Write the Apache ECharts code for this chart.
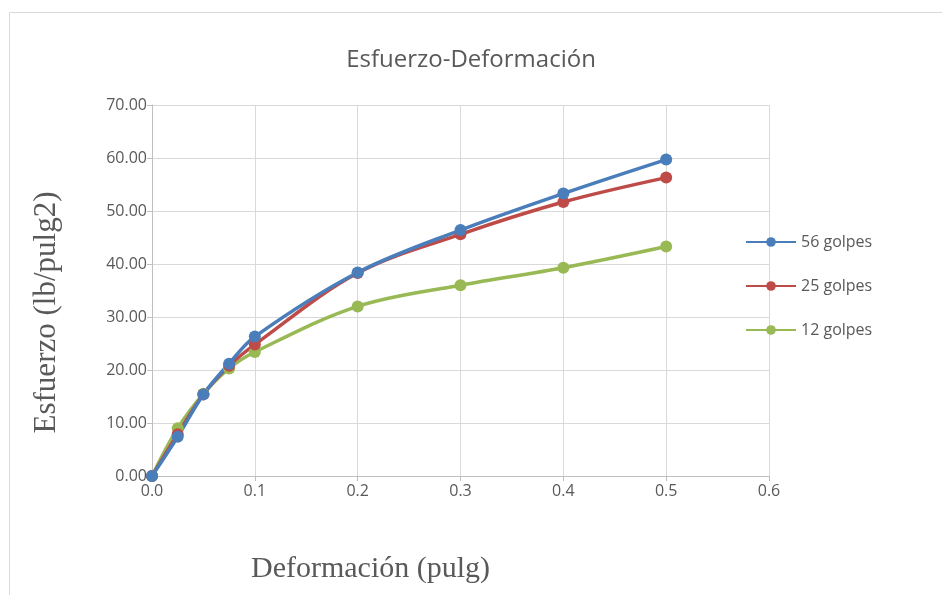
<!DOCTYPE html>
<html>
<head>
<meta charset="utf-8">
<script src="https://cdn.jsdelivr.net/npm/echarts@6/dist/echarts.min.js"></script>
<style>html,body{margin:0;padding:0;background:#fff}#c{width:942px;height:595px}</style>
</head>
<body>
<div id="c"></div>
<script>
const deformacion = [0, 0.025, 0.05, 0.075, 0.1, 0.2, 0.3, 0.4, 0.5];
const golpes56 = [0, 7.4, 15.4, 21.2, 26.3, 38.4, 46.4, 53.3, 59.7];
const golpes25 = [0, 7.9, 15.4, 20.8, 24.8, 38.3, 45.6, 51.7, 56.3];
const golpes12 = [0, 9.0, 15.5, 20.3, 23.4, 32.0, 36.0, 39.3, 43.3];
const seriesNames = ['56 golpes', '25 golpes', '12 golpes'];
const seriesColors = ['#4a7ebb', '#be4b48', '#98b954'];

const chart = echarts.init(document.getElementById('c'));
const mk = (name, vals, color) => ({
  name, type: 'line', smooth: 0.35,
  data: deformacion.map((x, i) => [x, vals[i]]),
  symbol: 'circle', symbolSize: 12,
  lineStyle: { width: 3.5, color },
  itemStyle: { color },
  z: 3
});
chart.setOption({
  animation: false,
  graphic: [{
    type: 'rect', left: 7, top: 10, shape: { width: 1000, height: 700 },
    style: { fill: 'none', stroke: '#d9d9d9', lineWidth: 1 }, silent: true
  }],
  title: {
    text: 'Esfuerzo-Deformación', left: 'center', top: 43,
    textStyle: { fontFamily: 'Open Sans', fontSize: 24, fontWeight: 'normal', color: '#595959' }
  },
  legend: {
    orient: 'vertical', left: 740, top: 229, itemWidth: 50, itemHeight: 12, itemGap: 28,
    textStyle: { fontFamily: 'Open Sans', fontSize: 16, color: '#595959' },
    data: seriesNames
  },
  grid: { left: 152, top: 105, width: 617, height: 371, containLabel: false },
  xAxis: {
    type: 'value', min: 0, max: 0.6, interval: 0.1,
    name: 'Deformación (pulg)', nameLocation: 'middle', nameGap: 78,
    nameTextStyle: { fontFamily: 'Liberation Serif', fontSize: 30, color: '#595959', padding: [0, 180, 0, 0] },
    axisLine: { lineStyle: { color: '#bfbfbf', width: 1 } },
    axisTick: { show: true, length: 5, lineStyle: { color: '#bfbfbf' } },
    axisLabel: { formatter: v => v.toFixed(1), fontFamily: 'Open Sans', fontSize: 16, color: '#595959', margin: 7 },
    splitLine: { show: true, lineStyle: { color: '#d9d9d9', width: 1 } }
  },
  yAxis: {
    type: 'value', min: 0, max: 70, interval: 10,
    name: 'Esfuerzo (lb/pulg2)', nameLocation: 'middle', nameGap: 90,
    nameTextStyle: { fontFamily: 'Liberation Serif', fontSize: 31, color: '#595959', padding: [0, 44, 0, 0] },
    axisLine: { show: true, lineStyle: { color: '#bfbfbf', width: 1 } },
    axisTick: { show: true, length: 5, lineStyle: { color: '#bfbfbf' } },
    axisLabel: { formatter: v => v.toFixed(2), fontFamily: 'Open Sans', fontSize: 16, color: '#595959', margin: 5 },
    splitLine: { show: true, lineStyle: { color: '#d9d9d9', width: 1 } }
  },
  series: [
    mk(seriesNames[2], golpes12, seriesColors[2]),
    mk(seriesNames[1], golpes25, seriesColors[1]),
    mk(seriesNames[0], golpes56, seriesColors[0])
  ]
});
</script>
</body>
</html>
